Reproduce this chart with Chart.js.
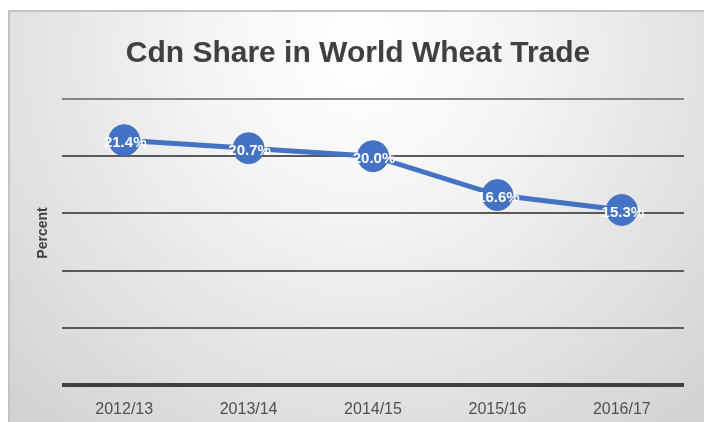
<!DOCTYPE html>
<html>
<head>
<meta charset="utf-8">
<script src="https://cdn.jsdelivr.net/npm/chart.js@4/dist/chart.umd.min.js"></script>
<style>
  html, body { margin: 0; padding: 0; background: #ffffff; }
  #wrap { width: 704px; height: 422px; position: relative; }
</style>
</head>
<body>
<div id="wrap"><canvas id="c" width="704" height="422"></canvas></div>
<script>
const chartTitle = "Cdn Share in World Wheat Trade";
const yAxisTitle = "Percent";
const categories = ["2012/13", "2013/14", "2014/15", "2015/16", "2016/17"];
const shareValues = [21.4, 20.7, 20.0, 16.6, 15.3];
const yTicks = [0, 5, 10, 15, 20, 25];

const FONT = '"Liberation Sans", Arial, sans-serif';

const bgPlugin = {
  id: 'bgFrame',
  beforeDraw(chart) {
    const ctx = chart.ctx;
    const W = chart.width, H = chart.height;
    ctx.save();
    ctx.fillStyle = '#ffffff';
    ctx.fillRect(0, 0, W, H);
    const g = ctx.createRadialGradient(360, 50, 0, 360, 50, 500);
    g.addColorStop(0, '#ffffff');
    g.addColorStop(0.3, '#f5f5f5');
    g.addColorStop(1, '#d2d2d2');
    ctx.fillStyle = g;
    ctx.fillRect(9, 11, W - 9, H - 11);
    ctx.strokeStyle = '#c3c3c3';
    ctx.lineWidth = 2;
    ctx.beginPath();
    ctx.moveTo(9, H);
    ctx.lineTo(9, 11);
    ctx.lineTo(W, 11);
    ctx.stroke();
    ctx.restore();
  },
  afterDraw(chart) {
    const ctx = chart.ctx;
    ctx.save();
    ctx.fillStyle = '#404040';
    ctx.font = 'bold 30px ' + FONT;
    ctx.textAlign = 'center';
    ctx.textBaseline = 'alphabetic';
    ctx.fillText(chartTitle, 358, 62);
    ctx.translate(43, 233);
    ctx.rotate(-Math.PI / 2);
    ctx.font = 'bold 14px ' + FONT;
    ctx.textBaseline = 'middle';
    ctx.fillText(yAxisTitle, 0, 0);
    ctx.restore();
  }
};

const labelPlugin = {
  id: 'valueLabels',
  afterDatasetsDraw(chart) {
    const ctx = chart.ctx;
    const meta = chart.getDatasetMeta(0);
    const data = chart.data.datasets[0].data;
    ctx.save();
    ctx.fillStyle = '#ffffff';
    ctx.font = 'bold 15px ' + FONT;
    ctx.textAlign = 'center';
    ctx.textBaseline = 'middle';
    meta.data.forEach((pt, i) => {
      ctx.fillText(data[i].toFixed(1) + '%', pt.x + 1, pt.y + 3);
    });
    ctx.restore();
  }
};

new Chart(document.getElementById('c'), {
  type: 'line',
  data: {
    labels: categories,
    datasets: [{
      data: shareValues,
      borderColor: '#4472C4',
      backgroundColor: '#4472C4',
      borderWidth: 5,
      pointRadius: 15.5,
      pointHoverRadius: 15.5,
      pointBackgroundColor: '#4472C4',
      pointBorderColor: '#4472C4',
      pointBorderWidth: 1,
      tension: 0,
      fill: false,
      clip: false
    }]
  },
  options: {
    responsive: false,
    animation: false,
    events: [],
    layout: { padding: { left: 62, right: 20, top: 99, bottom: 0 } },
    plugins: {
      legend: { display: false },
      tooltip: { enabled: false },
      title: { display: false }
    },
    scales: {
      x: {
        type: 'category',
        offset: true,
        grid: { display: false, drawTicks: false },
        border: { display: false },
        ticks: {
          color: '#505050',
          font: { family: FONT, size: 16 },
          padding: 15,
          maxRotation: 0
        },
        afterFit(scale) { scale.height = 37; }
      },
      y: {
        min: 0,
        max: 25,
        afterBuildTicks(scale) { scale.ticks = yTicks.map(v => ({ value: v })); },
        ticks: { display: false },
        border: { display: false },
        grid: {
          drawTicks: false,
          color(ctx) {
            const v = ctx.tick.value;
            if (v === 0) return '#404040';
            if (v === 25) return '#858585';
            return '#5a5a5a';
          },
          lineWidth(ctx) { return ctx.tick.value === 0 ? 4 : 2; }
        },
        afterFit(scale) { scale.width = 0; }
      }
    }
  },
  plugins: [bgPlugin, labelPlugin]
});
</script>
</body>
</html>
